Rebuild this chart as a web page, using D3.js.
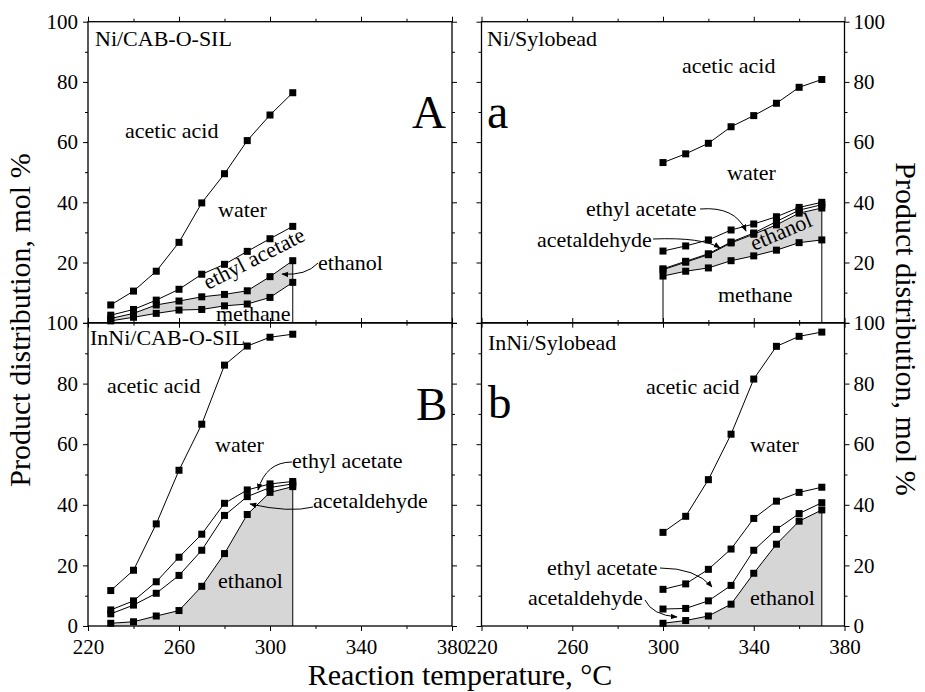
<!DOCTYPE html>
<html>
<head>
<meta charset="utf-8">
<script src="https://cdn.jsdelivr.net/npm/d3@7"></script>
<style>
  body { margin: 0; background: #fff; }
  text { font-family: "Liberation Serif", "Times New Roman", serif; fill: #000; }
</style>
</head>
<body>
<svg id="chart"></svg>
<script>
// temperatures, deg C
const tempCab = [230, 240, 250, 260, 270, 280, 290, 300, 310];
const tempSylo = [300, 310, 320, 330, 340, 350, 360, 370];

// upper edge of each product band, mol % (cumulative)
// A  Ni/CAB-O-SIL
const niCabWater = [5.9, 10.5, 17.1, 26.7, 39.8, 49.5, 60.5, 69.0, 76.4];
const niCabEthylAcetate = [2.5, 4.4, 7.5, 11.1, 16.1, 19.4, 23.7, 27.9, 32.0];
const niCabEthanol = [1.4, 3.1, 5.9, 7.2, 8.6, 9.4, 10.6, 15.3, 20.6];
const niCabMethane = [0.6, 1.8, 3.1, 4.2, 4.4, 5.6, 6.2, 8.4, 13.4];
// a  Ni/Sylobead
const niSyloWater = [53.2, 56.1, 59.6, 65.1, 68.8, 72.9, 78.2, 80.8];
const niSyloEthylAcetate = [23.8, 25.5, 27.5, 30.8, 32.8, 35.2, 38.3, 40.0];
const niSyloAcetaldehyde = [17.9, 20.4, 22.9, 26.8, 29.8, 33.6, 37.4, 39.2];
const niSyloEthanol = [17.6, 20.1, 22.6, 26.5, 29.4, 32.5, 36.4, 38.1];
const niSyloMethane = [15.5, 17.1, 18.2, 20.6, 22.2, 24.1, 26.6, 27.5];
// B  InNi/CAB-O-SIL
const inNiCabWater = [11.7, 18.4, 33.7, 51.4, 66.6, 86.1, 92.4, 95.3, 96.3];
const inNiCabEthylAcetate = [5.3, 8.3, 14.6, 22.7, 30.3, 40.5, 44.9, 46.9, 47.7];
const inNiCabAcetaldehyde = [4.0, 6.9, 10.8, 16.7, 25.0, 36.5, 42.7, 45.7, 46.9];
const inNiCabEthanol = [0.9, 1.4, 3.3, 5.1, 13.1, 23.9, 36.8, 44.1, 46.0];
// b  InNi/Sylobead
const inNiSyloWater = [30.9, 36.2, 48.3, 63.3, 81.5, 92.3, 95.6, 97.0];
const inNiSyloEthylAcetate = [12.1, 13.9, 18.7, 25.4, 35.5, 41.2, 44.1, 45.8];
const inNiSyloAcetaldehyde = [5.6, 5.8, 8.3, 13.4, 25.0, 31.9, 37.1, 40.7];
const inNiSyloEthanol = [0.9, 1.8, 3.3, 7.2, 17.4, 27.0, 34.6, 38.3];

const xMajor = [220, 260, 300, 340, 380];
const xMinor = [240, 280, 320, 360];
const yMajorTop = [20, 40, 60, 80, 100];
const yMajorBottom = [0, 20, 40, 60, 80, 100];
const yMinor = [10, 30, 50, 70, 90];

const svg = d3.select('#chart').attr('width', 925).attr('height', 692);

svg.append('defs').append('marker')
  .attr('id', 'arrow')
  .attr('viewBox', '0 0 10 10')
  .attr('refX', 9).attr('refY', 5)
  .attr('markerWidth', 7).attr('markerHeight', 7)
  .attr('markerUnits', 'userSpaceOnUse')
  .attr('orient', 'auto')
  .append('path').attr('d', 'M0,1 L10,5 L0,9 z').attr('fill', '#000');

const xLeft = d3.scaleLinear().domain([220, 380]).range([88, 452]);
const xRight = d3.scaleLinear().domain([220, 380]).range([481.5, 844.5]);
const yTop = d3.scaleLinear().domain([0, 100]).range([322.7, 21.7]);
const yBot = d3.scaleLinear().domain([0, 100]).range([626, 323]);

const panels = [
  { x: xLeft, y: yTop, t: tempCab, lines: [niCabWater, niCabEthylAcetate, niCabEthanol, niCabMethane],
    shadeTop: niCabEthanol, shadeBot: niCabMethane, drops: [8], yTicks: yMajorTop, side: 'left', bottomLabels: false },
  { x: xRight, y: yTop, t: tempSylo, lines: [niSyloWater, niSyloEthylAcetate, niSyloAcetaldehyde, niSyloEthanol, niSyloMethane],
    shadeTop: niSyloEthanol, shadeBot: niSyloMethane, drops: [0, 7], yTicks: yMajorTop, side: 'right', bottomLabels: false },
  { x: xLeft, y: yBot, t: tempCab, lines: [inNiCabWater, inNiCabEthylAcetate, inNiCabAcetaldehyde, inNiCabEthanol],
    shadeTop: inNiCabEthanol, shadeBot: null, drops: [8], yTicks: yMajorBottom, side: 'left', bottomLabels: true },
  { x: xRight, y: yBot, t: tempSylo, lines: [inNiSyloWater, inNiSyloEthylAcetate, inNiSyloAcetaldehyde, inNiSyloEthanol],
    shadeTop: inNiSyloEthanol, shadeBot: null, drops: [7], yTicks: yMajorBottom, side: 'right', bottomLabels: true }
];

function cleanAxis(g, fs) {
  g.select('.domain').remove();
  g.selectAll('line').attr('stroke', '#000').attr('stroke-width', 1);
  g.selectAll('text').attr('font-family', '"Liberation Serif", serif').attr('font-size', fs);
}

panels.forEach(p => {
  const [x0, x1] = p.x.range();
  const [y0, y1] = p.y.range();
  const g = svg.append('g');

  // shaded ethanol band
  const area = d3.area()
    .x((d, i) => p.x(p.t[i]))
    .y0((d, i) => p.y(p.shadeBot ? p.shadeBot[i] : 0))
    .y1(d => p.y(d));
  g.append('path').attr('d', area(p.shadeTop)).attr('fill', '#d6d6d6');

  // drop lines
  p.drops.forEach(i => {
    g.append('line')
      .attr('x1', p.x(p.t[i])).attr('x2', p.x(p.t[i]))
      .attr('y1', p.y(p.shadeTop[i])).attr('y2', p.y(0))
      .attr('stroke', '#000').attr('stroke-width', 1);
  });

  const line = d3.line().x((d, i) => p.x(p.t[i])).y(d => p.y(d));
  p.lines.forEach(s => {
    g.append('path').attr('d', line(s)).attr('fill', 'none').attr('stroke', '#000').attr('stroke-width', 1);
    g.selectAll(null).data(s).enter().append('rect')
      .attr('x', (d, i) => p.x(p.t[i]) - 3.5)
      .attr('y', d => p.y(d) - 3.5)
      .attr('width', 7).attr('height', 7)
      .attr('fill', '#000');
  });

  // frame
  g.append('rect').attr('x', x0).attr('y', y1).attr('width', x1 - x0).attr('height', y0 - y1)
    .attr('fill', 'none').attr('stroke', '#000').attr('stroke-width', 1.3);

  // ticks on all sides (outward)
  const bx = g.append('g').attr('transform', `translate(0,${y0})`)
    .call(d3.axisBottom(p.x).tickValues(xMajor).tickSize(5).tickPadding(8)
      .tickFormat(p.bottomLabels ? d3.format('d') : ''));
  cleanAxis(bx, 21);
  cleanAxis(g.append('g').attr('transform', `translate(0,${y0})`)
    .call(d3.axisBottom(p.x).tickValues(xMinor).tickSize(3).tickFormat('')), 21);
  cleanAxis(g.append('g').attr('transform', `translate(0,${y1})`)
    .call(d3.axisTop(p.x).tickValues(xMajor).tickSize(5).tickFormat('')), 21);
  cleanAxis(g.append('g').attr('transform', `translate(0,${y1})`)
    .call(d3.axisTop(p.x).tickValues(xMinor).tickSize(3).tickFormat('')), 21);

  const labelled = p.side;
  cleanAxis(g.append('g').attr('transform', `translate(${x0},0)`)
    .call(d3.axisLeft(p.y).tickValues(yMajorBottom).tickSize(5).tickPadding(5)
      .tickFormat(d => labelled === 'left' && p.yTicks.includes(d) ? d : '')), 21);
  cleanAxis(g.append('g').attr('transform', `translate(${x0},0)`)
    .call(d3.axisLeft(p.y).tickValues(yMinor).tickSize(3).tickFormat('')), 21);
  cleanAxis(g.append('g').attr('transform', `translate(${x1},0)`)
    .call(d3.axisRight(p.y).tickValues(yMajorBottom).tickSize(5).tickPadding(4)
      .tickFormat(d => labelled === 'right' && p.yTicks.includes(d) ? d : '')), 21);
  cleanAxis(g.append('g').attr('transform', `translate(${x1},0)`)
    .call(d3.axisRight(p.y).tickValues(yMinor).tickSize(3).tickFormat('')), 21);
});

// annotations
function label(txt, x, y, size, rot) {
  const t = svg.append('text').attr('font-size', size).text(txt);
  if (rot) t.attr('transform', `translate(${x},${y}) rotate(${rot})`);
  else t.attr('x', x).attr('y', y);
  return t;
}
function arrow(d) {
  svg.append('path').attr('d', d).attr('fill', 'none').attr('stroke', '#000')
    .attr('stroke-width', 1).attr('marker-end', 'url(#arrow)');
}

// panel A
label('Ni/CAB-O-SIL', 95, 46, 22);
label('A', 412, 128, 47);
label('acetic acid', 125, 138, 22);
label('water', 218, 217, 22);
label('ethyl acetate', 208, 290, 22, -27);
label('ethanol', 318, 270, 22);
label('methane', 216, 321, 22);
arrow('M318,263 Q306,276 282,274');

// panel a
label('Ni/Sylobead', 487, 46, 22);
label('a', 487, 128, 48);
label('acetic acid', 682, 73, 22);
label('water', 727, 180, 22);
label('ethyl acetate', 586, 216, 22);
label('acetaldehyde', 537, 247, 22);
label('ethanol', 754, 251, 22, -23);
label('methane', 718, 302, 22);
arrow('M700,209 Q735,206 746,231');
arrow('M653,239 Q702,237 720,248');

// panel B
label('InNi/CAB-O-SIL', 90, 345, 22);
label('B', 416, 420, 47);
label('acetic acid', 107, 393, 22);
label('water', 215, 452, 22);
label('ethyl acetate', 292, 468, 22);
label('acetaldehyde', 313, 508, 22);
label('ethanol', 218, 588, 22);
arrow('M292,462 Q266,462 258,490');
arrow('M313,507 Q290,513 250,504');

// panel b
label('InNi/Sylobead', 488, 350, 22);
label('b', 488, 418, 47);
label('acetic acid', 646, 394, 22);
label('water', 750, 452, 22);
label('ethyl acetate', 547, 575, 22);
label('acetaldehyde', 528, 605, 22);
label('ethanol', 750, 605, 22);
arrow('M660,568 Q696,568 712,587');
arrow('M645,600 Q652,615 677,617');

// axis titles
svg.append('text').attr('font-size', 30).attr('text-anchor', 'middle')
  .attr('transform', 'translate(30,320) rotate(-90)').text('Product distribution, mol %');
svg.append('text').attr('font-size', 30).attr('text-anchor', 'middle')
  .attr('transform', 'translate(896,329) rotate(90)').text('Product distribution, mol %');
svg.append('text').attr('font-size', 30).attr('text-anchor', 'middle')
  .attr('x', 460).attr('y', 685).text('Reaction temperature, °C');
</script>
</body>
</html>
